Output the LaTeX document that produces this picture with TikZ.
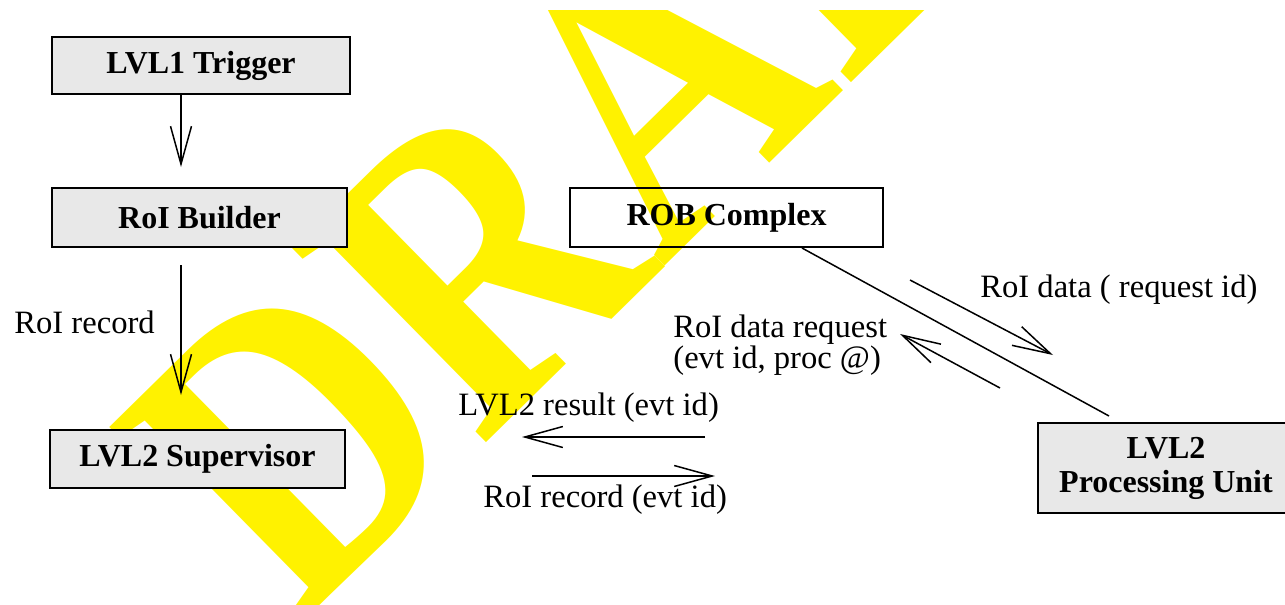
\documentclass[tikz,border=0pt]{standalone}
\usepackage{fontspec}
\setmainfont{Liberation Serif}
\usetikzlibrary{arrows.meta,calc}

\tikzset{
  unitbox/.style={draw=black, line width=1pt, fill=black!9, inner sep=0pt,
    font=\fontsize{16}{17}\selectfont\bfseries, align=center},
  plainbox/.style={unitbox, fill=none},
  link/.style={draw=black, line width=0.75pt},
  flow/.style={draw=black, line width=0.75pt,
    -{Straight Barb[length=19pt,width=10.5pt,line width=0.75pt]}},
  label/.style={inner sep=0pt, anchor=base west, font=\fontsize{16.3}{19}\selectfont},
  stamp/.style={inner sep=0pt, anchor=base west, rotate=44.5, text=yellow,
    font=\fontsize{177.5}{177.5}\selectfont\bfseries}
}

\begin{document}
\begin{tikzpicture}[x=0.5pt, y=-0.5pt]
  \useasboundingbox (0,0) rectangle (1285,605);

  % watermark behind everything (letters drawn a little taller than wide)
  \begin{scope}
    \clip (0,10) rectangle (1285,605);
    \node[stamp] (wm) at (297,628) {\scalebox{1}[1.18]{DRAFT}};
  \end{scope}

  % units
  \node[unitbox, minimum width=149pt, minimum height=28.5pt] (t1) at (201,65.5) {LVL1 Trigger};
  \node[unitbox, minimum width=147.5pt, minimum height=29.5pt] (rb) at (199.5,217.5) {RoI Builder};
  \node[unitbox, minimum width=147.5pt, minimum height=29pt] (sup) at (197.5,459) {LVL2 Supervisor};
  \node[plainbox, minimum width=156.5pt, minimum height=29.5pt] (rob) at (726.5,217.5) {ROB Complex};
  \node[unitbox, minimum width=128pt, minimum height=45pt] (pu) at (1166,468) {LVL2\\Processing Unit};

  % links between units
  \draw[link] ($(t1.south)+(-1,0)$) -- ($(t1.south)+(-1,0)$ |- rb.north);
  \draw[link] ($(rb.south)+(0.5,0)$) -- ($(rb.south)+(0.5,0)$ |- sup.north);
  \draw[link] ($(sup.east)+(0,-2)$) -- ($(sup.east)+(0,-2)$ -| pu.west);
  \draw[link] ($(rob.south west)+(233,0)$) -- ($(pu.north west)+(72,-6)$);

  % message flows
  \coordinate (a1s) at ($(t1.south)+(-20,0)$);
  \coordinate (a1e) at (181,167);
  \draw[flow] (a1s) -- (a1e);

  \coordinate (a2s) at (181,265);
  \coordinate (a2e) at (181,395);
  \draw[flow] (a2s) -- (a2e);

  \coordinate (a3s) at (705,437);
  \coordinate (a3e) at (522,437);
  \draw[flow] (a3s) -- (a3e);

  \coordinate (a4s) at (532,476);
  \coordinate (a4e) at (715,476);
  \draw[flow] (a4s) -- (a4e);

  \coordinate (a5s) at (910,280);
  \coordinate (a5e) at (1053,355);
  \draw[flow] (a5s) -- (a5e);

  \coordinate (a6s) at (1000,388);
  \coordinate (a6e) at (900,334);
  \draw[flow] (a6s) -- (a6e);

  % labels
  \node[label] (l1) at (14,333) {RoI record};
  \node[label] (l2) at (980,297) {RoI data ( request id)};
  \node[label, anchor=west, align=left, font=\fontsize{16.3}{14.5}\selectfont] (l3) at (673,345)
    {RoI data request\\(evt id, proc @)};
  \node[label] (l4) at (458,415) {LVL2 result (evt id)};
  \node[label] (l5) at (483,507) {RoI record (evt id)};
\end{tikzpicture}
\end{document}
